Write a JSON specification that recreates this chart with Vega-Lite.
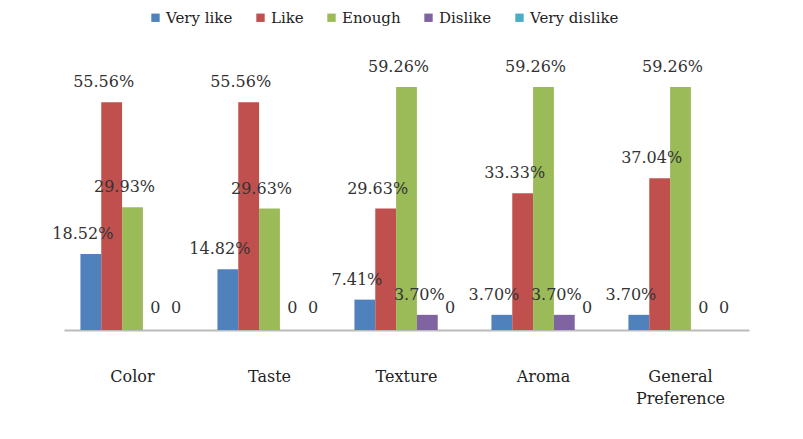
{
  "$schema": "https://vega.github.io/schema/vega-lite/v6.json",
  "width": 685,
  "height": 246,
  "autosize": {"type": "none"},
  "padding": {"left": 64, "top": 84, "right": 54, "bottom": 109},
  "background": "white",
  "config": {
    "view": {"stroke": null},
    "font": "DejaVu Serif, serif"
  },
  "data": {
    "values": [
      {"aspect": "Color", "rating": "Very like", "value": 18.52, "label": "18.52%"},
      {"aspect": "Color", "rating": "Like", "value": 55.56, "label": "55.56%"},
      {"aspect": "Color", "rating": "Enough", "value": 29.93, "label": "29.93%"},
      {"aspect": "Color", "rating": "Dislike", "value": 0, "label": "0"},
      {"aspect": "Color", "rating": "Very dislike", "value": 0, "label": "0"},
      {"aspect": "Taste", "rating": "Very like", "value": 14.82, "label": "14.82%"},
      {"aspect": "Taste", "rating": "Like", "value": 55.56, "label": "55.56%"},
      {"aspect": "Taste", "rating": "Enough", "value": 29.63, "label": "29.63%"},
      {"aspect": "Taste", "rating": "Dislike", "value": 0, "label": "0"},
      {"aspect": "Taste", "rating": "Very dislike", "value": 0, "label": "0"},
      {"aspect": "Texture", "rating": "Very like", "value": 7.41, "label": "7.41%"},
      {"aspect": "Texture", "rating": "Like", "value": 29.63, "label": "29.63%"},
      {"aspect": "Texture", "rating": "Enough", "value": 59.26, "label": "59.26%"},
      {"aspect": "Texture", "rating": "Dislike", "value": 3.70, "label": "3.70%"},
      {"aspect": "Texture", "rating": "Very dislike", "value": 0, "label": "0"},
      {"aspect": "Aroma", "rating": "Very like", "value": 3.70, "label": "3.70%"},
      {"aspect": "Aroma", "rating": "Like", "value": 33.33, "label": "33.33%"},
      {"aspect": "Aroma", "rating": "Enough", "value": 59.26, "label": "59.26%"},
      {"aspect": "Aroma", "rating": "Dislike", "value": 3.70, "label": "3.70%"},
      {"aspect": "Aroma", "rating": "Very dislike", "value": 0, "label": "0"},
      {"aspect": "General Preference", "rating": "Very like", "value": 3.70, "label": "3.70%"},
      {"aspect": "General Preference", "rating": "Like", "value": 37.04, "label": "37.04%"},
      {"aspect": "General Preference", "rating": "Enough", "value": 59.26, "label": "59.26%"},
      {"aspect": "General Preference", "rating": "Dislike", "value": 0, "label": "0"},
      {"aspect": "General Preference", "rating": "Very dislike", "value": 0, "label": "0"}
    ]
  },
  "encoding": {
    "x": {
      "field": "aspect",
      "type": "nominal",
      "sort": ["Color", "Taste", "Texture", "Aroma", "General Preference"],
      "scale": {"paddingInner": 0.24, "paddingOuter": 0.12},
      "axis": {
        "title": null,
        "labelAngle": 0,
        "labelFont": "DejaVu Serif, serif",
        "labelFontSize": 16,
        "labelColor": "#222",
        "labelPadding": 38,
        "ticks": false,
        "domainColor": "#bbbbbb",
        "domainWidth": 2,
        "labelExpr": "datum.value == 'General Preference' ? ['General', 'Preference'] : datum.value",
        "labelLineHeight": 22
      }
    },
    "xOffset": {
      "field": "rating",
      "type": "nominal",
      "sort": ["Very like", "Like", "Enough", "Dislike", "Very dislike"]
    },
    "y": {
      "field": "value",
      "type": "quantitative",
      "scale": {"domain": [0, 60]},
      "axis": null
    }
  },
  "layer": [
    {
      "mark": {"type": "bar", "stroke": null},
      "encoding": {
        "color": {
          "field": "rating",
          "type": "nominal",
          "scale": {
            "domain": ["Very like", "Like", "Enough", "Dislike", "Very dislike"],
            "range": ["#4F81BD", "#C0504D", "#9BBB59", "#8064A2", "#4BACC6"]
          },
          "legend": {
            "orient": "none",
            "legendX": 84,
            "legendY": -74,
            "direction": "horizontal",
            "title": null,
            "symbolType": "square",
            "symbolSize": 70,
            "labelFont": "DejaVu Serif, serif",
            "labelFontSize": 15,
            "labelColor": "#222",
            "columnPadding": 20,
            "labelOffset": 3
          }
        }
      }
    },
    {
      "transform": [{"filter": "datum.value > 0"}],
      "mark": {
        "type": "text",
        "font": "DejaVu Serif, serif",
        "fontSize": 16,
        "color": "#333",
        "dy": -12,
        "dx": -8,
        "baseline": "bottom"
      },
      "encoding": {
        "text": {"field": "label"}
      }
    },
    {
      "transform": [{"filter": "datum.value == 0"}],
      "mark": {
        "type": "text",
        "font": "DejaVu Serif, serif",
        "fontSize": 16,
        "color": "#333",
        "dy": -14,
        "dx": 2,
        "baseline": "bottom"
      },
      "encoding": {
        "text": {"field": "label"}
      }
    }
  ]
}
